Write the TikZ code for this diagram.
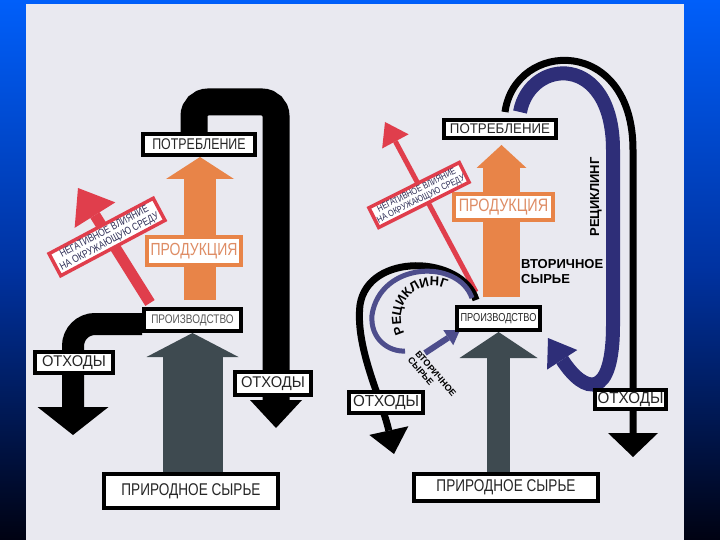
\documentclass[tikz,border=0pt]{standalone}
\usepackage{fontspec}
\setmainfont{Liberation Sans}
\newfontfamily\lblfont[FakeStretch=0.8]{Liberation Sans}
\newfontfamily\widefont[FakeStretch=0.95]{Liberation Sans}
\usetikzlibrary{arrows.meta}
\usetikzlibrary{decorations.text}

\definecolor{bgtop}{RGB}{0,95,250}
\definecolor{bgmid}{RGB}{0,50,160}
\definecolor{bgbot}{RGB}{0,2,18}
\definecolor{panel}{RGB}{233,233,240}
\definecolor{slate}{RGB}{62,74,80}
\definecolor{orng}{RGB}{232,132,72}
\definecolor{orngtxt}{RGB}{222,140,100}
\definecolor{warnred}{RGB}{224,62,76}
\definecolor{navy}{RGB}{46,46,120}
\definecolor{signtxt}{RGB}{45,45,85}

\pgfdeclarelayer{back}
\pgfdeclarelayer{flow}
\pgfsetlayers{back,flow,main}

\tikzset{
  lbl/.style={draw=black, line width=4pt, fill=white, inner sep=0pt, text=black!85},
  prodbox/.style={draw=orng, line width=4pt, fill=white, inner sep=0pt, text=orngtxt},
  sign/.style={draw=warnred, line width=3.5pt, fill=white, inner sep=0pt, text=signtxt, align=center},
  bighead/.style args={#1/#2}{-{Triangle[width=#1pt,length=#2pt,line width=0pt]}},
}

\begin{document}
\begin{tikzpicture}[x=1pt,y=-1pt]
\useasboundingbox (0,0) rectangle (720,540);
\begin{pgfonlayer}{back}
  \shade[top color=bgtop, bottom color=bgbot, middle color=bgmid] (0,0) rectangle (720,540);
  \fill[panel] (26,4) rectangle (684,540);
\end{pgfonlayer}

% left scheme: boxes
\node[lbl, minimum width=112pt, minimum height=21pt, font=\lblfont\fontsize{15.5}{16}\selectfont] (consL) at (199,144.5) {ПОТРЕБЛЕНИЕ};
\node[prodbox, minimum width=94pt, minimum height=28pt, font=\lblfont\fontsize{17.5}{18}\selectfont] (goodsL) at (194,251) {ПРОДУКЦИЯ};
\node[lbl, minimum width=97pt, minimum height=22pt, text=black!65, font=\lblfont\fontsize{12.5}{13}\selectfont] (prodL) at (192.5,320) {ПРОИЗВОДСТВО};
\node[lbl, minimum width=174pt, minimum height=34pt, font=\lblfont\fontsize{17}{18}\selectfont] (natL) at (191,491) {ПРИРОДНОЕ СЫРЬЕ};
\node[lbl, minimum width=78pt, minimum height=21pt, font=\widefont\fontsize{15.5}{16}\selectfont] (wasteLa) at (74,362.5) {ОТХОДЫ};
\node[lbl, minimum width=76pt, minimum height=23pt, font=\widefont\fontsize{15.5}{16}\selectfont] (wasteLb) at (273,383.5) {ОТХОДЫ};
\node[sign, rotate=28, minimum width=118pt, minimum height=25pt, font=\lblfont\fontsize{10.5}{11}\selectfont] (signL) at (107,237) {НЕГАТИВНОЕ ВЛИЯНИЕ\\НА ОКРУЖАЮЩУЮ СРЕДУ};

% left scheme: flows
\coordinate (oL) at (200,300);
\coordinate (rL0) at (150,303);
\coordinate (rL1) at (78,188);
\coordinate (pipeL) at (276,102);
\coordinate (endLb) at (276,428);
\coordinate (endLa) at (73,435);
\begin{pgfonlayer}{flow}
  \draw[slate, line width=60pt, bighead=92/24] (prodL.south |- natL.north) -- (prodL.south);
  \draw[orng, line width=32pt, bighead=68/22] (oL) -- (oL |- consL.south);
  \draw[line width=27pt, rounded corners=14pt, bighead=52/28] ([xshift=-5pt]consL.north) |- (pipeL) -- (endLb);
  \draw[line width=22pt, rounded corners=22pt, bighead=71/28] ([yshift=-4pt]prodL.west) -| (endLa);
  \draw[warnred, line width=11pt, bighead=48/32] (rL0) -- (rL1);
\end{pgfonlayer}

% right scheme: boxes
\node[lbl, minimum width=112pt, minimum height=18pt, font=\widefont\fontsize{14}{15}\selectfont] (consR) at (500,129) {ПОТРЕБЛЕНИЕ};
\node[prodbox, minimum width=99pt, minimum height=26pt, font=\lblfont\fontsize{18}{18}\selectfont] (goodsR) at (503.5,207) {ПРОДУКЦИЯ};
\node[lbl, minimum width=83pt, minimum height=23pt, font=\lblfont\fontsize{11.5}{12}\selectfont] (prodR) at (498.5,318.5) {ПРОИЗВОДСТВО};
\node[lbl, minimum width=184pt, minimum height=27pt, font=\lblfont\fontsize{17}{18}\selectfont] (natR) at (506,487.5) {ПРИРОДНОЕ СЫРЬЕ};
\node[lbl, minimum width=74pt, minimum height=21pt, font=\widefont\fontsize{16}{16}\selectfont] (wasteRa) at (386,402.5) {ОТХОДЫ};
\node[lbl, minimum width=71pt, minimum height=19pt, font=\widefont\fontsize{16}{16}\selectfont] (wasteRb) at (630.5,399.5) {ОТХОДЫ};
\node[sign, rotate=26.6, minimum width=101pt, minimum height=22pt, font=\lblfont\fontsize{9.2}{9.6}\selectfont] (signR) at (419,195) {НЕГАТИВНОЕ ВЛИЯНИЕ\\НА ОКРУЖАЮЩУЮ СРЕДУ};

% right scheme: labels
\node[rotate=90, font=\bfseries\fontsize{13}{13}\selectfont] (recR) at (596,197) {РЕЦИКЛИНГ};
\node[anchor=north west, align=left, inner sep=0pt, font=\bfseries\fontsize{13}{15}\selectfont] (secR) at (521,259) {ВТОРИЧНОЕ\\СЫРЬЕ};
\node[rotate=-49, align=left, inner sep=0pt, font=\bfseries\fontsize{9}{10}\selectfont] (secS) at (432,377) {ВТОРИЧНОЕ\\СЫРЬЕ};
\path[decorate, decoration={text along path, text align=center,
    text={|\bfseries\fontsize{13}{13}\selectfont|РЕЦИКЛИНГ}}]
  (433,318) ++(150:32) arc[start angle=150, end angle=296, radius=32];

% right scheme: flows
\coordinate (oR) at (501.5,297);
\coordinate (rR0) at (476,292);
\coordinate (rR1) at (385,122);
\coordinate (loopA) at (505,112);
\coordinate (loopB) at (520,112);
\coordinate (endRb) at (633,457);
\coordinate (retR) at (548,338);
\coordinate (smallA) at (476,300);
\coordinate (smallB) at (472,298);
\coordinate (smallC) at (405,351);
\coordinate (endRa) at (394,454);
\coordinate (retS0) at (425,353);
\coordinate (retS1) at (460,330);
\begin{pgfonlayer}{flow}
  \draw[slate, line width=23pt, bighead=78/26] (prodR.south |- natR.north) -- (prodR.south);
  \draw[orng, line width=37pt, bighead=50/23] (oR) -- ([yshift=-5pt]oR |- consR.south);
  \draw[warnred, line width=5pt, bighead=30/22] (rR0) -- (rR1);
  \draw[line width=7pt, bighead=50/24] (loopA) .. controls (515,40) and (633,35) .. (633,150) -- (endRb);
  \draw[navy, line width=14pt, bighead=36/26] (loopB) .. controls (530,58) and (613,52) .. (613,150)
    -- (613,325) .. controls (613,400) and (585,395) .. (retR);
  \draw[line width=7pt, bighead=40/24] (smallA) .. controls (462,255) and (368,252) .. (360,305)
    .. controls (355,348) and (382,400) .. (endRa);
  \draw[navy!85, line width=5pt] (smallB) .. controls (458,258) and (380,262) .. (372,315)
    .. controls (370,340) and (390,352) .. (smallC);
  \draw[navy!85, line width=6pt, bighead=18/14] (retS0) -- (retS1);
\end{pgfonlayer}
\end{tikzpicture}
\end{document}
